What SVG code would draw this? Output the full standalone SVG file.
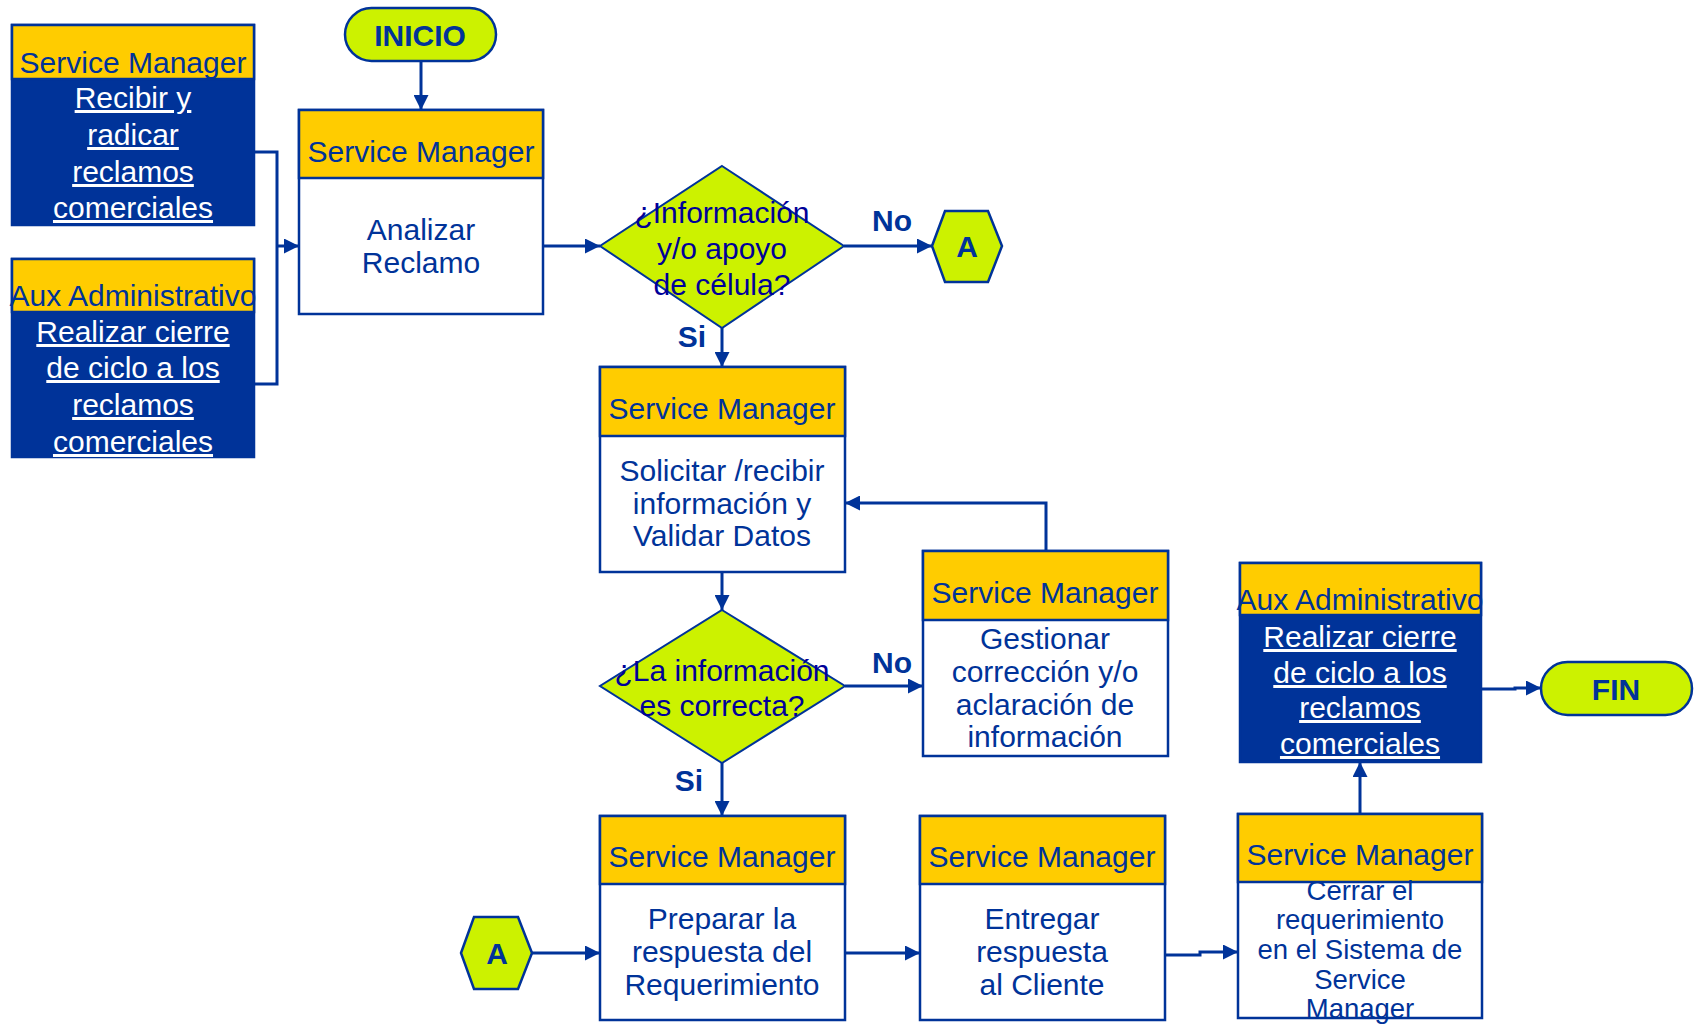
<svg xmlns="http://www.w3.org/2000/svg" width="1701" height="1029" viewBox="0 0 1701 1029">
  <defs>
    <marker id="arrow" viewBox="0 0 10 10" refX="10" refY="5" markerWidth="5" markerHeight="5" orient="auto" markerUnits="strokeWidth">
      <path d="M0,0 L10,5 L0,10 Z" fill="#003399"/>
    </marker>
    <style>
      .box { fill: #FFFFFF; stroke: #003399; stroke-width: 2.5; }
      .dark { fill: #003399; stroke: #003399; stroke-width: 2.5; }
      .head { fill: #FFCC00; stroke: #003399; stroke-width: 2.5; }
      .term { fill: #CCF200; stroke: #003399; stroke-width: 2.5; }
      .dec { fill: #CCF200; stroke: #003399; stroke-width: 2; }
      .t { font-family: "Liberation Sans", Arial, sans-serif; font-size: 30px; fill: #003399; text-anchor: middle; }
      .ts { font-size: 27.5px; }
      .q { fill: #000099; }
      .w { fill: #FFFFFF; text-decoration: underline; }
      .b { font-weight: bold; }
      .conn { fill: none; stroke: #003399; stroke-width: 3; }
      .arr { marker-end: url(#arrow); }
    </style>
  </defs>

  <!-- connectors -->
  <g id="connectors">
    <path class="conn" d="M254,152 H277 V384 H254"/>
    <path class="conn arr" d="M277,246 H299"/>
    <path class="conn arr" d="M421,62 V110"/>
    <path class="conn arr" d="M543,246 H600"/>
    <path class="conn arr" d="M844,246 H932"/>
    <path class="conn arr" d="M722,328 V367"/>
    <path class="conn arr" d="M722,572 V610"/>
    <path class="conn arr" d="M845,686 H923"/>
    <path class="conn arr" d="M1046,551 V503 H845"/>
    <path class="conn arr" d="M722,763 V816"/>
    <path class="conn arr" d="M532,953 H600"/>
    <path class="conn arr" d="M845,953 H920"/>
    <path class="conn arr" d="M1165,955 H1200 V952 H1238"/>
    <path class="conn arr" d="M1360,814 V762"/>
    <path class="conn arr" d="M1481,689 H1515 V688 H1541"/>
    <text class="t b" x="892" y="231">No</text>
    <text class="t b" x="692" y="347">Si</text>
    <text class="t b" x="892" y="673">No</text>
    <text class="t b" x="689" y="791">Si</text>
  </g>

  <!-- start -->
  <g id="inicio">
    <rect class="term" x="345" y="8" width="151" height="53" rx="26.5"/>
    <text class="t b" x="420" y="46">INICIO</text>
  </g>

  <!-- left: receive claims -->
  <g id="recibir">
    <rect class="dark" x="12" y="25" width="242" height="200"/>
    <rect class="head" x="12" y="25" width="242" height="54"/>
    <text class="t" x="133" y="73">Service Manager</text>
    <text class="t w" x="133" y="108">Recibir y</text>
    <text class="t w" x="133" y="145">radicar</text>
    <text class="t w" x="133" y="182">reclamos</text>
    <text class="t w" x="133" y="218">comerciales</text>
  </g>

  <!-- left: close cycle -->
  <g id="cierre-ciclo-1">
    <rect class="dark" x="12" y="259" width="242" height="198"/>
    <rect class="head" x="12" y="259" width="242" height="53"/>
    <text class="t" x="133" y="306">Aux Administrativo</text>
    <text class="t w" x="133" y="342">Realizar cierre</text>
    <text class="t w" x="133" y="378">de ciclo a los</text>
    <text class="t w" x="133" y="415">reclamos</text>
    <text class="t w" x="133" y="452">comerciales</text>
  </g>

  <!-- analyse claim -->
  <g id="analizar">
    <rect class="box" x="299" y="110" width="244" height="204"/>
    <rect class="head" x="299" y="110" width="244" height="68"/>
    <text class="t" x="421" y="162">Service Manager</text>
    <text class="t" x="421" y="240">Analizar</text>
    <text class="t" x="421" y="273">Reclamo</text>
  </g>

  <!-- decision 1 -->
  <g id="decision-apoyo">
    <polygon class="dec" points="722,166 844,246 722,328 600,246"/>
    <text class="t q" x="722" y="223">¿Información</text>
    <text class="t q" x="722" y="259">y/o apoyo</text>
    <text class="t q" x="722" y="295">de célula?</text>
  </g>

  <!-- connector A (out) -->
  <g id="conector-a-1">
    <polygon class="term" points="932,246 945,211 988,211 1002,246 988,282 945,282"/>
    <text class="t b" x="967" y="257">A</text>
  </g>

  <!-- request / validate -->
  <g id="solicitar">
    <rect class="box" x="600" y="367" width="245" height="205"/>
    <rect class="head" x="600" y="367" width="245" height="69"/>
    <text class="t" x="722" y="419">Service Manager</text>
    <text class="t" x="722" y="481">Solicitar /recibir</text>
    <text class="t" x="722" y="514">información y</text>
    <text class="t" x="722" y="546">Validar Datos</text>
  </g>

  <!-- decision 2 -->
  <g id="decision-correcta">
    <polygon class="dec" points="722,610 845,686 722,763 600,686"/>
    <text class="t q" x="722" y="681">¿La información</text>
    <text class="t q" x="722" y="716">es correcta?</text>
  </g>

  <!-- manage correction -->
  <g id="gestionar">
    <rect class="box" x="923" y="551" width="245" height="205"/>
    <rect class="head" x="923" y="551" width="245" height="69"/>
    <text class="t" x="1045" y="603">Service Manager</text>
    <text class="t" x="1045" y="649">Gestionar</text>
    <text class="t" x="1045" y="682">corrección y/o</text>
    <text class="t" x="1045" y="715">aclaración de</text>
    <text class="t" x="1045" y="747">información</text>
  </g>

  <!-- connector A (in) -->
  <g id="conector-a-2">
    <polygon class="term" points="461,953 474,917 518,917 532,953 518,989 474,989"/>
    <text class="t b" x="497" y="964">A</text>
  </g>

  <!-- prepare response -->
  <g id="preparar">
    <rect class="box" x="600" y="816" width="245" height="204"/>
    <rect class="head" x="600" y="816" width="245" height="68"/>
    <text class="t" x="722" y="867">Service Manager</text>
    <text class="t" x="722" y="929">Preparar la</text>
    <text class="t" x="722" y="962">respuesta del</text>
    <text class="t" x="722" y="995">Requerimiento</text>
  </g>

  <!-- deliver response -->
  <g id="entregar">
    <rect class="box" x="920" y="816" width="245" height="204"/>
    <rect class="head" x="920" y="816" width="245" height="68"/>
    <text class="t" x="1042" y="867">Service Manager</text>
    <text class="t" x="1042" y="929">Entregar</text>
    <text class="t" x="1042" y="962">respuesta</text>
    <text class="t" x="1042" y="995">al Cliente</text>
  </g>

  <!-- close requirement -->
  <g id="cerrar">
    <rect class="box" x="1238" y="814" width="244" height="204"/>
    <rect class="head" x="1238" y="814" width="244" height="68"/>
    <text class="t" x="1360" y="865">Service Manager</text>
    <text class="t ts" x="1360" y="900">Cerrar el</text>
    <text class="t ts" x="1360" y="929">requerimiento</text>
    <text class="t ts" x="1360" y="959">en el Sistema de</text>
    <text class="t ts" x="1360" y="989">Service</text>
    <text class="t ts" x="1360" y="1018">Manager</text>
  </g>

  <!-- close cycle -->
  <g id="cierre-ciclo-2">
    <rect class="dark" x="1240" y="563" width="241" height="199"/>
    <rect class="head" x="1240" y="563" width="241" height="52"/>
    <text class="t" x="1360" y="610">Aux Administrativo</text>
    <text class="t w" x="1360" y="647">Realizar cierre</text>
    <text class="t w" x="1360" y="683">de ciclo a los</text>
    <text class="t w" x="1360" y="718">reclamos</text>
    <text class="t w" x="1360" y="754">comerciales</text>
  </g>

  <!-- end -->
  <g id="fin">
    <rect class="term" x="1541" y="662" width="151" height="53" rx="26.5"/>
    <text class="t b" x="1616" y="700">FIN</text>
  </g>
</svg>
